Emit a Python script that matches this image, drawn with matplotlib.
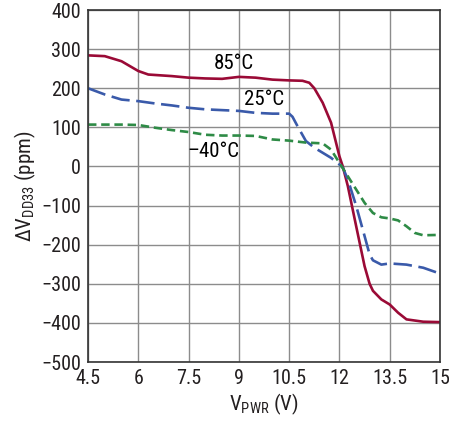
#!/usr/bin/env python3
"""Delta VDD33 vs VPWR at three temperatures."""
import matplotlib
matplotlib.use("Agg")
import matplotlib.pyplot as plt

plt.rcParams["font.family"] = ["Liberation Sans Narrow", "Roboto Condensed", "DejaVu Sans"]
plt.rcParams["font.stretch"] = "condensed"
plt.rcParams["axes.unicode_minus"] = True

# 85°C
x_85 = [4.5, 5.0, 5.5, 6.0, 6.3, 7.0, 7.5, 8.0, 8.5, 9.0, 9.5, 10.0, 10.5, 10.9,
        11.1, 11.25, 11.5, 11.75, 12.0, 12.1, 12.25, 12.5, 12.75, 12.9, 13.0,
        13.25, 13.5, 13.75, 14.0, 14.5, 15.0]
y_85 = [284, 282, 269, 244, 235, 231, 227, 225, 224, 229, 227, 222, 220, 219,
        214, 200, 163, 112, 26, 0, -50, -153, -255, -300, -318,
        -340, -353, -374, -391, -397, -398]

# 25°C
x_25 = [4.5, 5.0, 5.5, 6.0, 6.5, 7.0, 7.5, 8.0, 8.5, 9.0, 9.5, 10.0, 10.5, 10.6,
        10.75, 11.0, 11.25, 11.5, 11.75, 12.0, 12.1, 12.25, 12.5, 12.75, 12.9,
        13.0, 13.25, 13.5, 14.0, 14.5, 15.0]
y_25 = [200, 184, 171, 167, 161, 156, 150, 146, 144, 142, 137, 135, 135, 127,
        103, 65, 48, 35, 22, 5, -3, -33, -101, -178, -225,
        -240, -251, -248, -251, -259, -274]

# -40°C
x_m40 = [4.5, 5.0, 5.5, 6.0, 6.5, 7.0, 7.5, 8.0, 8.5, 9.0, 9.5, 10.0, 10.5, 11.0,
         11.5, 11.75, 12.0, 12.25, 12.5, 12.75, 13.0, 13.25, 13.5, 13.75, 14.0,
         14.25, 14.5, 15.0]
y_m40 = [107, 107, 107, 106, 99, 93, 88, 81, 79, 79, 78, 69, 66, 61,
         59, 43, 9, -25, -59, -93, -119, -130, -133, -138, -153,
         -170, -176, -175]

x_ticks = [4.5, 6, 7.5, 9, 10.5, 12, 13.5, 15]
x_ticklabels = ["4.5", "6", "7.5", "9", "10.5", "12", "13.5", "15"]
y_ticks = list(range(-500, 401, 100))


def main() -> None:
    fig = plt.figure(figsize=(4.49, 4.25), dpi=100)
    ax = fig.add_axes([88 / 449, 1 - 362 / 425, 352 / 449, 352 / 425])

    ax.plot(x_85, y_85, color="#9a0a36", lw=1.9, solid_capstyle="butt")
    ax.plot(x_25, y_25, color="#3a5aaa", lw=1.9, dashes=(7, 2.5))
    ax.plot(x_m40, y_m40, color="#2e8b46", lw=1.9, dashes=(3.2, 1.8))

    ax.text(8.85, 262, "85°C", fontsize=15, ha="center", va="center")
    ax.text(9.75, 170, "25°C", fontsize=15, ha="center", va="center")
    ax.text(8.25, 38, "–40°C", fontsize=15, ha="center", va="center")

    ax.set_xlim(4.5, 15)
    ax.set_ylim(-500, 400)
    ax.set_xticks(x_ticks)
    ax.set_xticklabels(x_ticklabels)
    ax.set_yticks(y_ticks)
    ax.tick_params(length=0, labelsize=14.5, pad=5, colors="#231f20")
    ax.grid(True, color="#8c8c8c", lw=1.0)
    ax.set_axisbelow(True)
    for s in ax.spines.values():
        s.set_color("#333333")
        s.set_linewidth(1.2)

    ax.set_xlabel(r"V$_{\mathregular{PWR}}$ (V)", fontsize=15, color="#231f20", labelpad=3)
    ax.set_ylabel(r"ΔV$_{\mathregular{DD33}}$ (ppm)", fontsize=15, color="#231f20", labelpad=2)

    fig.savefig("out.png", dpi=100)
    plt.close(fig)


if __name__ == "__main__":
    main()
